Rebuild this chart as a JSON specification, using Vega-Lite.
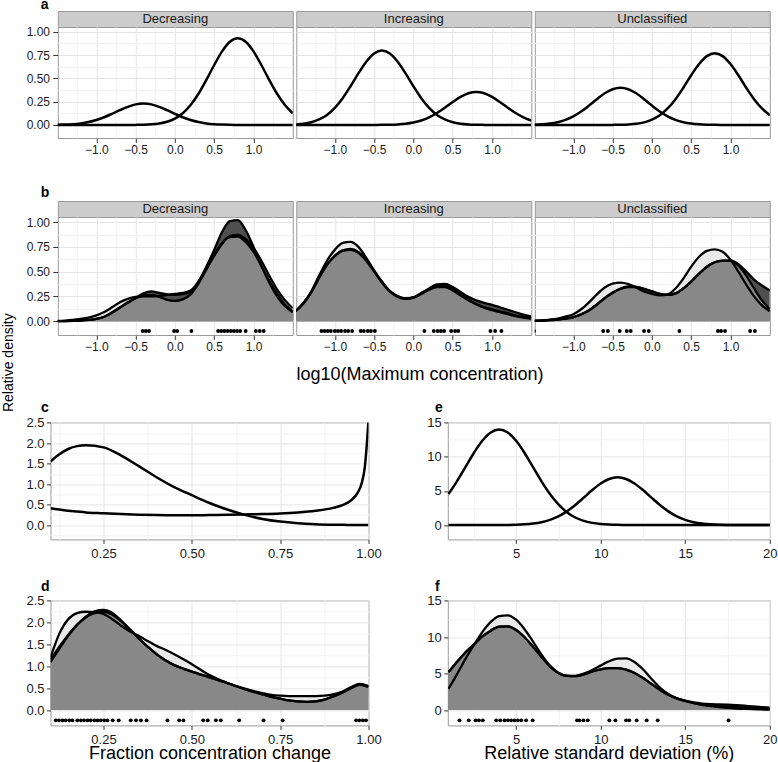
{
"$schema":"https://vega.github.io/schema/vega-lite/v6.json",
"background":"white",
"padding":{"left":1.5,"top":-3,"right":0,"bottom":0},
"title":{"text":"Relative density","orient":"left","anchor":"middle","frame":"bounds","fontSize":14,"fontWeight":"normal","offset":9.5,"dx":17.6,"color":"#000000","font":"Liberation Sans"},
"config":{
 "font":"Liberation Sans",
 "view":{"stroke":"#999999","strokeWidth":1},
 "axis":{"domain":false,"labelFont":"Liberation Sans","titleFont":"Liberation Sans","labelColor":"#1a1a1a","titleColor":"#000000","titleFontWeight":"normal","tickColor":"#333333","tickWidth":1,"gridColor":"#e5e5e5","gridWidth":1,"labelOverlap":false,"labelFlush":false,"labelBound":false},
 "title":{"font":"Liberation Sans","fontWeight":"bold","fontSize":14,"color":"#000000","anchor":"start","baseline":"alphabetic"}
},
"datasets":{
"A":[
{"g":"D","x":-1.5,"c1":0.0016,"c2":0},{"g":"D","x":-1.4,"c1":0.0039,"c2":0},{"g":"D","x":-1.3,"c1":0.0084,"c2":0},{"g":"D","x":-1.2,"c1":0.0169,"c2":0},{"g":"D","x":-1.1,"c1":0.031,"c2":0},{"g":"D","x":-1.0,"c1":0.053,"c2":0},{"g":"D","x":-0.9,"c1":0.083,"c2":0},{"g":"D","x":-0.8,"c1":0.12,"c2":0},{"g":"D","x":-0.7,"c1":0.159,"c2":0},{"g":"D","x":-0.6,"c1":0.195,"c2":0},{"g":"D","x":-0.5,"c1":0.221,"c2":0.0009},{"g":"D","x":-0.4,"c1":0.23,"c2":0.0026},{"g":"D","x":-0.3,"c1":0.221,"c2":0.0067},{"g":"D","x":-0.2,"c1":0.195,"c2":0.0157},{"g":"D","x":-0.1,"c1":0.159,"c2":0.034},{"g":"D","x":0,"c1":0.12,"c2":0.068},{"g":"D","x":0.1,"c1":0.083,"c2":0.126},{"g":"D","x":0.2,"c1":0.053,"c2":0.214},{"g":"D","x":0.3,"c1":0.031,"c2":0.335},{"g":"D","x":0.4,"c1":0.0169,"c2":0.484},{"g":"D","x":0.5,"c1":0.0084,"c2":0.644},{"g":"D","x":0.6,"c1":0.0039,"c2":0.79},{"g":"D","x":0.7,"c1":0.0016,"c2":0.893},{"g":"D","x":0.8,"c1":0.0006,"c2":0.93},{"g":"D","x":0.9,"c1":0.0002,"c2":0.893},{"g":"D","x":1.0,"c1":0,"c2":0.79},{"g":"D","x":1.1,"c1":0,"c2":0.644},{"g":"D","x":1.2,"c1":0,"c2":0.484},{"g":"D","x":1.3,"c1":0,"c2":0.335},{"g":"D","x":1.4,"c1":0,"c2":0.214},{"g":"D","x":1.5,"c1":0,"c2":0.126},
{"g":"I","x":-1.5,"c1":0.0057,"c2":0},{"g":"I","x":-1.4,"c1":0.0135,"c2":0},{"g":"I","x":-1.3,"c1":0.029,"c2":0},{"g":"I","x":-1.2,"c1":0.059,"c2":0},{"g":"I","x":-1.1,"c1":0.108,"c2":0},{"g":"I","x":-1.0,"c1":0.184,"c2":0},{"g":"I","x":-0.9,"c1":0.288,"c2":0},{"g":"I","x":-0.8,"c1":0.416,"c2":0},{"g":"I","x":-0.7,"c1":0.554,"c2":0},{"g":"I","x":-0.6,"c1":0.679,"c2":0},{"g":"I","x":-0.5,"c1":0.768,"c2":0.0004},{"g":"I","x":-0.4,"c1":0.8,"c2":0.001},{"g":"I","x":-0.3,"c1":0.768,"c2":0.0025},{"g":"I","x":-0.2,"c1":0.679,"c2":0.006},{"g":"I","x":-0.1,"c1":0.554,"c2":0.013},{"g":"I","x":0,"c1":0.416,"c2":0.026},{"g":"I","x":0.1,"c1":0.288,"c2":0.048},{"g":"I","x":0.2,"c1":0.184,"c2":0.082},{"g":"I","x":0.3,"c1":0.108,"c2":0.128},{"g":"I","x":0.4,"c1":0.059,"c2":0.185},{"g":"I","x":0.5,"c1":0.029,"c2":0.246},{"g":"I","x":0.6,"c1":0.0135,"c2":0.301},{"g":"I","x":0.7,"c1":0.0057,"c2":0.341},{"g":"I","x":0.8,"c1":0.0022,"c2":0.355},{"g":"I","x":0.9,"c1":0.0008,"c2":0.341},{"g":"I","x":1.0,"c1":0,"c2":0.301},{"g":"I","x":1.1,"c1":0,"c2":0.246},{"g":"I","x":1.2,"c1":0,"c2":0.185},{"g":"I","x":1.3,"c1":0,"c2":0.128},{"g":"I","x":1.4,"c1":0,"c2":0.082},{"g":"I","x":1.5,"c1":0,"c2":0.048},
{"g":"U","x":-1.5,"c1":0.0029,"c2":0},{"g":"U","x":-1.4,"c1":0.0068,"c2":0},{"g":"U","x":-1.3,"c1":0.0147,"c2":0},{"g":"U","x":-1.2,"c1":0.029,"c2":0},{"g":"U","x":-1.1,"c1":0.054,"c2":0},{"g":"U","x":-1.0,"c1":0.092,"c2":0},{"g":"U","x":-0.9,"c1":0.144,"c2":0},{"g":"U","x":-0.8,"c1":0.208,"c2":0},{"g":"U","x":-0.7,"c1":0.277,"c2":0},{"g":"U","x":-0.6,"c1":0.34,"c2":0},{"g":"U","x":-0.5,"c1":0.384,"c2":0.0008},{"g":"U","x":-0.4,"c1":0.4,"c2":0.0022},{"g":"U","x":-0.3,"c1":0.384,"c2":0.0055},{"g":"U","x":-0.2,"c1":0.34,"c2":0.013},{"g":"U","x":-0.1,"c1":0.277,"c2":0.028},{"g":"U","x":0,"c1":0.208,"c2":0.057},{"g":"U","x":0.1,"c1":0.144,"c2":0.104},{"g":"U","x":0.2,"c1":0.092,"c2":0.177},{"g":"U","x":0.3,"c1":0.054,"c2":0.277},{"g":"U","x":0.4,"c1":0.029,"c2":0.4},{"g":"U","x":0.5,"c1":0.0147,"c2":0.534},{"g":"U","x":0.6,"c1":0.0068,"c2":0.654},{"g":"U","x":0.7,"c1":0.0029,"c2":0.739},{"g":"U","x":0.8,"c1":0.0011,"c2":0.77},{"g":"U","x":0.9,"c1":0.0004,"c2":0.739},{"g":"U","x":1.0,"c1":0,"c2":0.654},{"g":"U","x":1.1,"c1":0,"c2":0.534},{"g":"U","x":1.2,"c1":0,"c2":0.4},{"g":"U","x":1.3,"c1":0,"c2":0.277},{"g":"U","x":1.4,"c1":0,"c2":0.177},{"g":"U","x":1.5,"c1":0,"c2":0.104}
],
"B":[
{"g":"D","x":-1.5,"L":0.003,"B":0,"C":0},{"g":"D","x":-1.4,"L":0.006,"B":0.001,"C":0.001},{"g":"D","x":-1.3,"L":0.012,"B":0.003,"C":0.003},{"g":"D","x":-1.2,"L":0.022,"B":0.006,"C":0.006},{"g":"D","x":-1.1,"L":0.035,"B":0.012,"C":0.012},{"g":"D","x":-1.0,"L":0.058,"B":0.022,"C":0.022},{"g":"D","x":-0.9,"L":0.092,"B":0.044,"C":0.045},{"g":"D","x":-0.8,"L":0.14,"B":0.085,"C":0.09},{"g":"D","x":-0.7,"L":0.19,"B":0.135,"C":0.14},{"g":"D","x":-0.6,"L":0.225,"B":0.185,"C":0.19},{"g":"D","x":-0.5,"L":0.245,"B":0.235,"C":0.23},{"g":"D","x":-0.4,"L":0.25,"B":0.28,"C":0.26},{"g":"D","x":-0.3,"L":0.25,"B":0.3,"C":0.265},{"g":"D","x":-0.2,"L":0.255,"B":0.285,"C":0.245},{"g":"D","x":-0.1,"L":0.265,"B":0.27,"C":0.215},{"g":"D","x":0,"L":0.275,"B":0.265,"C":0.205},{"g":"D","x":0.1,"L":0.285,"B":0.272,"C":0.22},{"g":"D","x":0.2,"L":0.31,"B":0.3,"C":0.27},{"g":"D","x":0.3,"L":0.4,"B":0.4,"C":0.38},{"g":"D","x":0.4,"L":0.53,"B":0.55,"C":0.52},{"g":"D","x":0.5,"L":0.66,"B":0.72,"C":0.67},{"g":"D","x":0.6,"L":0.78,"B":0.9,"C":0.79},{"g":"D","x":0.7,"L":0.86,"B":1.01,"C":0.85},{"g":"D","x":0.8,"L":0.87,"B":1.02,"C":0.855},{"g":"D","x":0.9,"L":0.83,"B":0.92,"C":0.8},{"g":"D","x":1.0,"L":0.74,"B":0.75,"C":0.7},{"g":"D","x":1.1,"L":0.61,"B":0.56,"C":0.56},{"g":"D","x":1.2,"L":0.46,"B":0.39,"C":0.41},{"g":"D","x":1.3,"L":0.32,"B":0.25,"C":0.28},{"g":"D","x":1.4,"L":0.21,"B":0.15,"C":0.17},{"g":"D","x":1.5,"L":0.13,"B":0.09,"C":0.1},
{"g":"I","x":-1.5,"L":0.1,"B":0.1,"C":0.1},{"g":"I","x":-1.4,"L":0.18,"B":0.18,"C":0.18},{"g":"I","x":-1.3,"L":0.3,"B":0.29,"C":0.29},{"g":"I","x":-1.2,"L":0.46,"B":0.44,"C":0.44},{"g":"I","x":-1.1,"L":0.61,"B":0.57,"C":0.57},{"g":"I","x":-1.0,"L":0.72,"B":0.66,"C":0.66},{"g":"I","x":-0.9,"L":0.79,"B":0.715,"C":0.71},{"g":"I","x":-0.8,"L":0.8,"B":0.73,"C":0.72},{"g":"I","x":-0.7,"L":0.75,"B":0.7,"C":0.69},{"g":"I","x":-0.6,"L":0.64,"B":0.62,"C":0.61},{"g":"I","x":-0.5,"L":0.51,"B":0.51,"C":0.5},{"g":"I","x":-0.4,"L":0.39,"B":0.4,"C":0.39},{"g":"I","x":-0.3,"L":0.3,"B":0.305,"C":0.3},{"g":"I","x":-0.2,"L":0.245,"B":0.25,"C":0.25},{"g":"I","x":-0.1,"L":0.225,"B":0.23,"C":0.23},{"g":"I","x":0,"L":0.235,"B":0.24,"C":0.24},{"g":"I","x":0.1,"L":0.275,"B":0.285,"C":0.28},{"g":"I","x":0.2,"L":0.32,"B":0.33,"C":0.32},{"g":"I","x":0.3,"L":0.355,"B":0.37,"C":0.345},{"g":"I","x":0.4,"L":0.36,"B":0.375,"C":0.345},{"g":"I","x":0.5,"L":0.325,"B":0.345,"C":0.31},{"g":"I","x":0.6,"L":0.27,"B":0.295,"C":0.26},{"g":"I","x":0.7,"L":0.215,"B":0.245,"C":0.21},{"g":"I","x":0.8,"L":0.17,"B":0.21,"C":0.17},{"g":"I","x":0.9,"L":0.135,"B":0.185,"C":0.14},{"g":"I","x":1.0,"L":0.11,"B":0.165,"C":0.12},{"g":"I","x":1.1,"L":0.09,"B":0.14,"C":0.1},{"g":"I","x":1.2,"L":0.07,"B":0.115,"C":0.08},{"g":"I","x":1.3,"L":0.05,"B":0.09,"C":0.055},{"g":"I","x":1.4,"L":0.035,"B":0.065,"C":0.04},{"g":"I","x":1.5,"L":0.025,"B":0.045,"C":0.03},
{"g":"U","x":-1.5,"L":0.005,"B":0.003,"C":0.003},{"g":"U","x":-1.4,"L":0.008,"B":0.005,"C":0.005},{"g":"U","x":-1.3,"L":0.015,"B":0.01,"C":0.01},{"g":"U","x":-1.2,"L":0.025,"B":0.015,"C":0.015},{"g":"U","x":-1.1,"L":0.045,"B":0.025,"C":0.025},{"g":"U","x":-1.0,"L":0.07,"B":0.04,"C":0.04},{"g":"U","x":-0.9,"L":0.12,"B":0.068,"C":0.07},{"g":"U","x":-0.8,"L":0.19,"B":0.108,"C":0.11},{"g":"U","x":-0.7,"L":0.27,"B":0.165,"C":0.17},{"g":"U","x":-0.6,"L":0.34,"B":0.23,"C":0.235},{"g":"U","x":-0.5,"L":0.38,"B":0.285,"C":0.29},{"g":"U","x":-0.4,"L":0.39,"B":0.325,"C":0.33},{"g":"U","x":-0.3,"L":0.375,"B":0.345,"C":0.35},{"g":"U","x":-0.2,"L":0.34,"B":0.345,"C":0.345},{"g":"U","x":-0.1,"L":0.3,"B":0.325,"C":0.325},{"g":"U","x":0,"L":0.275,"B":0.3,"C":0.3},{"g":"U","x":0.1,"L":0.26,"B":0.275,"C":0.275},{"g":"U","x":0.2,"L":0.27,"B":0.265,"C":0.265},{"g":"U","x":0.3,"L":0.33,"B":0.28,"C":0.28},{"g":"U","x":0.4,"L":0.43,"B":0.33,"C":0.33},{"g":"U","x":0.5,"L":0.55,"B":0.4,"C":0.4},{"g":"U","x":0.6,"L":0.65,"B":0.48,"C":0.48},{"g":"U","x":0.7,"L":0.71,"B":0.55,"C":0.55},{"g":"U","x":0.8,"L":0.725,"B":0.595,"C":0.595},{"g":"U","x":0.9,"L":0.7,"B":0.61,"C":0.61},{"g":"U","x":1.0,"L":0.62,"B":0.61,"C":0.61},{"g":"U","x":1.1,"L":0.5,"B":0.575,"C":0.56},{"g":"U","x":1.2,"L":0.37,"B":0.5,"C":0.46},{"g":"U","x":1.3,"L":0.25,"B":0.42,"C":0.33},{"g":"U","x":1.4,"L":0.16,"B":0.36,"C":0.21},{"g":"U","x":1.5,"L":0.1,"B":0.31,"C":0.12}
],
"BR":[
{"g":"D","x":-0.41},{"g":"D","x":-0.37},{"g":"D","x":-0.33},{"g":"D","x":-0.01},{"g":"D","x":0.03},{"g":"D","x":0.21},{"g":"D","x":0.55},{"g":"D","x":0.59},{"g":"D","x":0.63},{"g":"D","x":0.67},{"g":"D","x":0.71},{"g":"D","x":0.75},{"g":"D","x":0.79},{"g":"D","x":0.83},{"g":"D","x":0.9},{"g":"D","x":1.03},{"g":"D","x":1.08},{"g":"D","x":1.13},
{"g":"I","x":-1.17},{"g":"I","x":-1.13},{"g":"I","x":-1.09},{"g":"I","x":-1.05},{"g":"I","x":-1.0},{"g":"I","x":-0.96},{"g":"I","x":-0.92},{"g":"I","x":-0.87},{"g":"I","x":-0.83},{"g":"I","x":-0.78},{"g":"I","x":-0.67},{"g":"I","x":-0.63},{"g":"I","x":-0.58},{"g":"I","x":-0.54},{"g":"I","x":-0.49},{"g":"I","x":0.14},{"g":"I","x":0.26},{"g":"I","x":0.31},{"g":"I","x":0.35},{"g":"I","x":0.39},{"g":"I","x":0.48},{"g":"I","x":0.53},{"g":"I","x":0.57},{"g":"I","x":0.98},{"g":"I","x":1.04},{"g":"I","x":1.12},
{"g":"U","x":-1.5},{"g":"U","x":-0.62},{"g":"U","x":-0.56},{"g":"U","x":-0.41},{"g":"U","x":-0.32},{"g":"U","x":-0.27},{"g":"U","x":-0.1},{"g":"U","x":-0.04},{"g":"U","x":0.35},{"g":"U","x":0.84},{"g":"U","x":0.88},{"g":"U","x":0.93},{"g":"U","x":1.25},{"g":"U","x":1.31}
],
"C":[
{"x":0.1,"c1":1.55,"c2":0.41},{"x":0.125,"c1":1.73,"c2":0.38},{"x":0.15,"c1":1.86,"c2":0.35},{"x":0.175,"c1":1.93,"c2":0.33},{"x":0.2,"c1":1.95,"c2":0.31},{"x":0.25,"c1":1.9,"c2":0.29},{"x":0.3,"c1":1.7,"c2":0.27},{"x":0.35,"c1":1.44,"c2":0.255},{"x":0.4,"c1":1.17,"c2":0.245},{"x":0.45,"c1":0.93,"c2":0.24},{"x":0.5,"c1":0.73,"c2":0.24},{"x":0.55,"c1":0.54,"c2":0.245},{"x":0.6,"c1":0.38,"c2":0.25},{"x":0.65,"c1":0.25,"c2":0.26},{"x":0.7,"c1":0.15,"c2":0.27},{"x":0.75,"c1":0.085,"c2":0.285},{"x":0.8,"c1":0.045,"c2":0.31},{"x":0.85,"c1":0.022,"c2":0.35},{"x":0.9,"c1":0.01,"c2":0.42},{"x":0.93,"c1":0.006,"c2":0.5},{"x":0.95,"c1":0.004,"c2":0.6},{"x":0.97,"c1":0.002,"c2":0.8},{"x":0.98,"c1":0.002,"c2":1.0},{"x":0.99,"c1":0.001,"c2":1.45},{"x":0.995,"c1":0.001,"c2":1.95},{"x":1.0,"c1":0.001,"c2":2.55}
],
"D":[
{"x":0.1,"L":1.2,"B":1.1,"C":1.15},{"x":0.125,"L":1.75,"B":1.4,"C":1.45},{"x":0.15,"L":2.08,"B":1.7,"C":1.72},{"x":0.175,"L":2.22,"B":1.95,"C":1.95},{"x":0.2,"L":2.25,"B":2.14,"C":2.12},{"x":0.225,"L":2.24,"B":2.26,"C":2.22},{"x":0.25,"L":2.2,"B":2.29,"C":2.24},{"x":0.275,"L":2.08,"B":2.22,"C":2.18},{"x":0.3,"L":1.93,"B":2.05,"C":2.03},{"x":0.325,"L":1.8,"B":1.85,"C":1.84},{"x":0.35,"L":1.7,"B":1.64,"C":1.64},{"x":0.375,"L":1.58,"B":1.45,"C":1.45},{"x":0.4,"L":1.47,"B":1.28,"C":1.28},{"x":0.425,"L":1.38,"B":1.14,"C":1.14},{"x":0.45,"L":1.28,"B":1.03,"C":1.03},{"x":0.475,"L":1.17,"B":0.95,"C":0.95},{"x":0.5,"L":1.05,"B":0.88,"C":0.88},{"x":0.55,"L":0.8,"B":0.75,"C":0.75},{"x":0.6,"L":0.62,"B":0.62,"C":0.62},{"x":0.65,"L":0.49,"B":0.48,"C":0.48},{"x":0.7,"L":0.39,"B":0.36,"C":0.36},{"x":0.725,"L":0.35,"B":0.3,"C":0.3},{"x":0.75,"L":0.33,"B":0.26,"C":0.26},{"x":0.775,"L":0.32,"B":0.22,"C":0.22},{"x":0.8,"L":0.32,"B":0.2,"C":0.2},{"x":0.825,"L":0.32,"B":0.19,"C":0.19},{"x":0.85,"L":0.32,"B":0.2,"C":0.2},{"x":0.875,"L":0.33,"B":0.24,"C":0.24},{"x":0.9,"L":0.36,"B":0.31,"C":0.31},{"x":0.925,"L":0.42,"B":0.4,"C":0.4},{"x":0.95,"L":0.52,"B":0.5,"C":0.5},{"x":0.975,"L":0.6,"B":0.59,"C":0.58},{"x":1.0,"L":0.55,"B":0.54,"C":0.53}
],
"DR":[
{"x":0.115},{"x":0.124},{"x":0.134},{"x":0.143},{"x":0.153},{"x":0.162},{"x":0.176},{"x":0.186},{"x":0.195},{"x":0.205},{"x":0.214},{"x":0.224},{"x":0.233},{"x":0.242},{"x":0.252},{"x":0.261},{"x":0.276},{"x":0.293},{"x":0.327},{"x":0.342},{"x":0.356},{"x":0.372},{"x":0.431},{"x":0.464},{"x":0.476},{"x":0.532},{"x":0.545},{"x":0.568},{"x":0.582},{"x":0.634},{"x":0.703},{"x":0.757},{"x":0.965},{"x":0.974},{"x":0.984},{"x":0.993}
],
"E":[
{"x":1,"c1":4.55,"c2":0},{"x":1.5,"c1":6.41,"c2":0},{"x":2,"c1":8.49,"c2":0},{"x":2.5,"c1":10.57,"c2":0},{"x":3,"c1":12.36,"c2":0},{"x":3.5,"c1":13.57,"c2":0.003},{"x":4,"c1":14,"c2":0.008},{"x":4.5,"c1":13.57,"c2":0.02},{"x":5,"c1":12.36,"c2":0.048},{"x":5.5,"c1":10.57,"c2":0.106},{"x":6,"c1":8.49,"c2":0.219},{"x":6.5,"c1":6.41,"c2":0.42},{"x":7,"c1":4.55,"c2":0.763},{"x":7.5,"c1":3.03,"c2":1.28},{"x":8,"c1":1.89,"c2":2.01},{"x":8.5,"c1":1.11,"c2":2.95},{"x":9,"c1":0.61,"c2":4.02},{"x":9.5,"c1":0.32,"c2":5.13},{"x":10,"c1":0.156,"c2":6.09},{"x":10.5,"c1":0.071,"c2":6.76},{"x":11,"c1":0.031,"c2":7},{"x":11.5,"c1":0.012,"c2":6.76},{"x":12,"c1":0.005,"c2":6.09},{"x":12.5,"c1":0.002,"c2":5.13},{"x":13,"c1":0,"c2":4.02},{"x":13.5,"c1":0,"c2":2.95},{"x":14,"c1":0,"c2":2.01},{"x":14.5,"c1":0,"c2":1.28},{"x":15,"c1":0,"c2":0.763},{"x":15.5,"c1":0,"c2":0.42},{"x":16,"c1":0,"c2":0.219},{"x":16.5,"c1":0,"c2":0.106},{"x":17,"c1":0,"c2":0.048},{"x":17.5,"c1":0,"c2":0.02},{"x":18,"c1":0,"c2":0.008},{"x":18.5,"c1":0,"c2":0.003},{"x":19,"c1":0,"c2":0.001},{"x":19.5,"c1":0,"c2":0},{"x":20,"c1":0,"c2":0}
],
"F":[
{"x":1,"L":2.9,"B":5.2,"C":5.2},{"x":1.5,"L":4.9,"B":6.6,"C":6.6},{"x":2,"L":7.0,"B":7.9,"C":7.9},{"x":2.5,"L":8.9,"B":9.0,"C":9.0},{"x":3,"L":10.7,"B":10.1,"C":10.1},{"x":3.5,"L":12.1,"B":10.9,"C":10.9},{"x":4,"L":12.9,"B":11.45,"C":11.45},{"x":4.5,"L":13.0,"B":11.5,"C":11.5},{"x":5,"L":12.4,"B":11.0,"C":11.0},{"x":5.5,"L":11.1,"B":10.0,"C":10.0},{"x":6,"L":9.4,"B":8.7,"C":8.7},{"x":6.5,"L":7.6,"B":7.3,"C":7.3},{"x":7,"L":6.1,"B":6.0,"C":6.0},{"x":7.5,"L":5.1,"B":5.1,"C":5.1},{"x":8,"L":4.7,"B":4.7,"C":4.7},{"x":8.5,"L":4.7,"B":4.65,"C":4.65},{"x":9,"L":5.0,"B":4.9,"C":4.9},{"x":9.5,"L":5.5,"B":5.3,"C":5.3},{"x":10,"L":6.1,"B":5.6,"C":5.6},{"x":10.5,"L":6.7,"B":5.75,"C":5.75},{"x":11,"L":7.05,"B":5.75,"C":5.75},{"x":11.5,"L":7.1,"B":5.55,"C":5.55},{"x":12,"L":6.6,"B":5.1,"C":5.1},{"x":12.5,"L":5.6,"B":4.4,"C":4.4},{"x":13,"L":4.3,"B":3.6,"C":3.6},{"x":13.5,"L":3.1,"B":2.8,"C":2.8},{"x":14,"L":2.2,"B":2.1,"C":2.1},{"x":14.5,"L":1.6,"B":1.62,"C":1.6},{"x":15,"L":1.25,"B":1.3,"C":1.25},{"x":15.5,"L":0.95,"B":1.05,"C":0.95},{"x":16,"L":0.72,"B":0.9,"C":0.75},{"x":16.5,"L":0.55,"B":0.82,"C":0.6},{"x":17,"L":0.4,"B":0.78,"C":0.5},{"x":17.5,"L":0.3,"B":0.74,"C":0.45},{"x":18,"L":0.22,"B":0.68,"C":0.4},{"x":18.5,"L":0.17,"B":0.6,"C":0.32},{"x":19,"L":0.12,"B":0.5,"C":0.25},{"x":19.5,"L":0.09,"B":0.42,"C":0.17},{"x":20,"L":0.06,"B":0.35,"C":0.12}
],
"FR":[
{"x":1.65},{"x":2.2},{"x":2.6},{"x":2.8},{"x":3.03},{"x":3.82},{"x":4.06},{"x":4.31},{"x":4.51},{"x":4.7},{"x":4.9},{"x":5.1},{"x":5.3},{"x":5.59},{"x":5.98},{"x":8.6},{"x":8.74},{"x":8.98},{"x":9.24},{"x":10.51},{"x":10.87},{"x":11.5},{"x":11.69},{"x":12.13},{"x":12.72},{"x":13.37},{"x":17.56}
]
},
"spacing":29,
"vconcat":[
{"spacing":-26.7,"hconcat":[
{"width":1,"height":1,"view":{"stroke":null,"fill":null},"data":{"values":[]},"mark":{"type":"point","opacity":0}},
{"title":{"text":"a","offset":-1.3,"dx":15,"frame":"bounds"},"spacing":1.5,"hconcat":[
 {"spacing":0,"bounds":"flush","vconcat":[
  {"width":235,"height":16,"view":{"fill":"#cccccc","stroke":"#999999"},"data":{"values":[{"t":"Decreasing"}]},"mark":{"type":"text","fontSize":13,"color":"#1a1a1a","baseline":"middle"},"encoding":{"text":{"field":"t","type":"nominal"}}},
  {"width":235,"height":111,"data":{"name":"A"},"transform":[{"filter":"datum.g=='D'"},{"fold":["c1","c2"],"as":["s","y"]}],"mark":{"type":"line","color":"#000000","strokeWidth":2.5,"interpolate":"monotone","clip":true},
   "encoding":{"x":{"field":"x","type":"quantitative","scale":{"domain":[-1.49,1.5],"nice":false,"zero":false},"axis":{"title":null,"values":[-1.25,-1,-0.75,-0.5,-0.25,0,0.25,0.5,0.75,1,1.25],"format":".1f","labelExpr":"abs(datum.value*2-round(datum.value*2))>0.01 ? '' : datum.label","labelFontSize":12,"tickSize":4.4,"labelPadding":2,"gridColor":{"condition":{"test":"abs(datum.value*2-round(datum.value*2))>0.01","value":"#f2f2f2"},"value":"#e5e5e5"},"tickOpacity":{"condition":{"test":"abs(datum.value*2-round(datum.value*2))>0.01","value":0},"value":1}}},
   "y":{"field":"y","type":"quantitative","scale":{"domain":[-0.14,1.052],"nice":false,"zero":false},"axis":{"title":null,"values":[0,0.125,0.25,0.375,0.5,0.625,0.75,0.875,1],"format":".2f","labelExpr":"abs(datum.value*4-round(datum.value*4))>0.01 ? '' : datum.label","labelFontSize":12,"tickSize":5,"labelPadding":3.3,"gridColor":{"condition":{"test":"abs(datum.value*4-round(datum.value*4))>0.01","value":"#f2f2f2"},"value":"#e5e5e5"},"tickOpacity":{"condition":{"test":"abs(datum.value*4-round(datum.value*4))>0.01","value":0},"value":1}}},
   "detail":{"field":"s"}}}
 ]},
 {"spacing":0,"bounds":"flush","vconcat":[
  {"width":235,"height":16,"view":{"fill":"#cccccc","stroke":"#999999"},"data":{"values":[{"t":"Increasing"}]},"mark":{"type":"text","fontSize":13,"color":"#1a1a1a","baseline":"middle"},"encoding":{"text":{"field":"t","type":"nominal"}}},
  {"width":235,"height":111,"data":{"name":"A"},"transform":[{"filter":"datum.g=='I'"},{"fold":["c1","c2"],"as":["s","y"]}],"mark":{"type":"line","color":"#000000","strokeWidth":2.5,"interpolate":"monotone","clip":true},
   "encoding":{"x":{"field":"x","type":"quantitative","scale":{"domain":[-1.49,1.5],"nice":false,"zero":false},"axis":{"title":null,"values":[-1.25,-1,-0.75,-0.5,-0.25,0,0.25,0.5,0.75,1,1.25],"format":".1f","labelExpr":"abs(datum.value*2-round(datum.value*2))>0.01 ? '' : datum.label","labelFontSize":12,"tickSize":4.4,"labelPadding":2,"gridColor":{"condition":{"test":"abs(datum.value*2-round(datum.value*2))>0.01","value":"#f2f2f2"},"value":"#e5e5e5"},"tickOpacity":{"condition":{"test":"abs(datum.value*2-round(datum.value*2))>0.01","value":0},"value":1}}},
   "y":{"field":"y","type":"quantitative","scale":{"domain":[-0.14,1.052],"nice":false,"zero":false},"axis":{"title":null,"values":[0,0.125,0.25,0.375,0.5,0.625,0.75,0.875,1],"labels":false,"ticks":false,"gridColor":{"condition":{"test":"abs(datum.value*4-round(datum.value*4))>0.01","value":"#f2f2f2"},"value":"#e5e5e5"}}},
   "detail":{"field":"s"}}}
 ]},
 {"spacing":0,"bounds":"flush","vconcat":[
  {"width":235,"height":16,"view":{"fill":"#cccccc","stroke":"#999999"},"data":{"values":[{"t":"Unclassified"}]},"mark":{"type":"text","fontSize":13,"color":"#1a1a1a","baseline":"middle"},"encoding":{"text":{"field":"t","type":"nominal"}}},
  {"width":235,"height":111,"data":{"name":"A"},"transform":[{"filter":"datum.g=='U'"},{"fold":["c1","c2"],"as":["s","y"]}],"mark":{"type":"line","color":"#000000","strokeWidth":2.5,"interpolate":"monotone","clip":true},
   "encoding":{"x":{"field":"x","type":"quantitative","scale":{"domain":[-1.49,1.5],"nice":false,"zero":false},"axis":{"title":null,"values":[-1.25,-1,-0.75,-0.5,-0.25,0,0.25,0.5,0.75,1,1.25],"format":".1f","labelExpr":"abs(datum.value*2-round(datum.value*2))>0.01 ? '' : datum.label","labelFontSize":12,"tickSize":4.4,"labelPadding":2,"gridColor":{"condition":{"test":"abs(datum.value*2-round(datum.value*2))>0.01","value":"#f2f2f2"},"value":"#e5e5e5"},"tickOpacity":{"condition":{"test":"abs(datum.value*2-round(datum.value*2))>0.01","value":0},"value":1}}},
   "y":{"field":"y","type":"quantitative","scale":{"domain":[-0.14,1.052],"nice":false,"zero":false},"axis":{"title":null,"values":[0,0.125,0.25,0.375,0.5,0.625,0.75,0.875,1],"labels":false,"ticks":false,"gridColor":{"condition":{"test":"abs(datum.value*4-round(datum.value*4))>0.01","value":"#f2f2f2"},"value":"#e5e5e5"}}},
   "detail":{"field":"s"}}}
 ]}
]}
]},
{"spacing":15.4,"vconcat":[
{"title":{"text":"b","offset":0.7,"dx":15,"frame":"bounds"},"spacing":-26.7,"hconcat":[
{"width":1,"height":1,"view":{"stroke":null,"fill":null},"data":{"values":[]},"mark":{"type":"point","opacity":0}},
{"title":{"text":"log10(Maximum concentration)","orient":"bottom","anchor":"middle","frame":"bounds","fontSize":18,"fontWeight":"normal","offset":13.5,"dx":22},"spacing":1.5,"hconcat":[
 {"spacing":0,"bounds":"flush","vconcat":[
  {"width":235,"height":16,"view":{"fill":"#cccccc","stroke":"#999999"},"data":{"values":[{"t":"Decreasing"}]},"mark":{"type":"text","fontSize":13,"color":"#1a1a1a","baseline":"middle"},"encoding":{"text":{"field":"t","type":"nominal"}}},
  {"width":235,"height":118,
   "encoding":{"x":{"field":"x","type":"quantitative","scale":{"domain":[-1.49,1.5],"nice":false,"zero":false},"axis":{"title":null,"values":[-1.25,-1,-0.75,-0.5,-0.25,0,0.25,0.5,0.75,1,1.25],"format":".1f","labelExpr":"abs(datum.value*2-round(datum.value*2))>0.01 ? '' : datum.label","labelFontSize":12,"tickSize":4.4,"labelPadding":2,"gridColor":{"condition":{"test":"abs(datum.value*2-round(datum.value*2))>0.01","value":"#f2f2f2"},"value":"#e5e5e5"},"tickOpacity":{"condition":{"test":"abs(datum.value*2-round(datum.value*2))>0.01","value":0},"value":1}}}},
   "layer":[
    {"data":{"name":"B"},"transform":[{"filter":"datum.g=='D'"},{"fold":["L","B","C"],"as":["s","v"]}],
     "encoding":{"y":{"field":"v","type":"quantitative","scale":{"domain":[-0.14,1.052],"nice":false,"zero":false},"axis":{"title":null,"values":[0,0.125,0.25,0.375,0.5,0.625,0.75,0.875,1],"format":".2f","labelExpr":"abs(datum.value*4-round(datum.value*4))>0.01 ? '' : datum.label","labelFontSize":12,"tickSize":5,"labelPadding":3.3,"gridColor":{"condition":{"test":"abs(datum.value*4-round(datum.value*4))>0.01","value":"#f2f2f2"},"value":"#e5e5e5"},"tickOpacity":{"condition":{"test":"abs(datum.value*4-round(datum.value*4))>0.01","value":0},"value":1}}}},
     "layer":[
      {"transform":[{"filter":"datum.s=='L'"}],"mark":{"type":"area","color":"#e9e9e9","interpolate":"monotone","clip":true},"encoding":{"y2":{"datum":0}}},
      {"transform":[{"filter":"datum.s=='B'"}],"mark":{"type":"area","color":"#4f4f4f","interpolate":"monotone","clip":true},"encoding":{"y2":{"datum":0}}},
      {"transform":[{"filter":"datum.s=='C'"}],"mark":{"type":"area","color":"#888888","interpolate":"monotone","clip":true},"encoding":{"y2":{"datum":0}}},
      {"mark":{"type":"line","color":"#000000","strokeWidth":2.3,"interpolate":"monotone","clip":true},"encoding":{"detail":{"field":"s"}}}
     ]},
    {"data":{"name":"BR"},"transform":[{"filter":"datum.g=='D'"}],"mark":{"type":"circle","color":"#000000","size":15,"opacity":1,"clip":true},
     "encoding":{"y":{"datum":-0.1,"type":"quantitative","scale":{"domain":[-0.14,1.052],"nice":false,"zero":false},"axis":{"title":null,"values":[0,0.125,0.25,0.375,0.5,0.625,0.75,0.875,1],"format":".2f","labelExpr":"abs(datum.value*4-round(datum.value*4))>0.01 ? '' : datum.label","labelFontSize":12,"tickSize":5,"labelPadding":3.3,"gridColor":{"condition":{"test":"abs(datum.value*4-round(datum.value*4))>0.01","value":"#f2f2f2"},"value":"#e5e5e5"},"tickOpacity":{"condition":{"test":"abs(datum.value*4-round(datum.value*4))>0.01","value":0},"value":1}}}}}
   ]}
 ]},
 {"spacing":0,"bounds":"flush","vconcat":[
  {"width":235,"height":16,"view":{"fill":"#cccccc","stroke":"#999999"},"data":{"values":[{"t":"Increasing"}]},"mark":{"type":"text","fontSize":13,"color":"#1a1a1a","baseline":"middle"},"encoding":{"text":{"field":"t","type":"nominal"}}},
  {"width":235,"height":118,
   "encoding":{"x":{"field":"x","type":"quantitative","scale":{"domain":[-1.49,1.5],"nice":false,"zero":false},"axis":{"title":null,"values":[-1.25,-1,-0.75,-0.5,-0.25,0,0.25,0.5,0.75,1,1.25],"format":".1f","labelExpr":"abs(datum.value*2-round(datum.value*2))>0.01 ? '' : datum.label","labelFontSize":12,"tickSize":4.4,"labelPadding":2,"gridColor":{"condition":{"test":"abs(datum.value*2-round(datum.value*2))>0.01","value":"#f2f2f2"},"value":"#e5e5e5"},"tickOpacity":{"condition":{"test":"abs(datum.value*2-round(datum.value*2))>0.01","value":0},"value":1}}}},
   "layer":[
    {"data":{"name":"B"},"transform":[{"filter":"datum.g=='I'"},{"fold":["L","B","C"],"as":["s","v"]}],
     "encoding":{"y":{"field":"v","type":"quantitative","scale":{"domain":[-0.14,1.052],"nice":false,"zero":false},"axis":{"title":null,"values":[0,0.125,0.25,0.375,0.5,0.625,0.75,0.875,1],"labels":false,"ticks":false,"gridColor":{"condition":{"test":"abs(datum.value*4-round(datum.value*4))>0.01","value":"#f2f2f2"},"value":"#e5e5e5"}}}},
     "layer":[
      {"transform":[{"filter":"datum.s=='L'"}],"mark":{"type":"area","color":"#e9e9e9","interpolate":"monotone","clip":true},"encoding":{"y2":{"datum":0}}},
      {"transform":[{"filter":"datum.s=='B'"}],"mark":{"type":"area","color":"#4f4f4f","interpolate":"monotone","clip":true},"encoding":{"y2":{"datum":0}}},
      {"transform":[{"filter":"datum.s=='C'"}],"mark":{"type":"area","color":"#888888","interpolate":"monotone","clip":true},"encoding":{"y2":{"datum":0}}},
      {"mark":{"type":"line","color":"#000000","strokeWidth":2.3,"interpolate":"monotone","clip":true},"encoding":{"detail":{"field":"s"}}}
     ]},
    {"data":{"name":"BR"},"transform":[{"filter":"datum.g=='I'"}],"mark":{"type":"circle","color":"#000000","size":15,"opacity":1,"clip":true},
     "encoding":{"y":{"datum":-0.1,"type":"quantitative","scale":{"domain":[-0.14,1.052],"nice":false,"zero":false},"axis":{"title":null,"values":[0,0.125,0.25,0.375,0.5,0.625,0.75,0.875,1],"labels":false,"ticks":false,"gridColor":{"condition":{"test":"abs(datum.value*4-round(datum.value*4))>0.01","value":"#f2f2f2"},"value":"#e5e5e5"}}}}}
   ]}
 ]},
 {"spacing":0,"bounds":"flush","vconcat":[
  {"width":235,"height":16,"view":{"fill":"#cccccc","stroke":"#999999"},"data":{"values":[{"t":"Unclassified"}]},"mark":{"type":"text","fontSize":13,"color":"#1a1a1a","baseline":"middle"},"encoding":{"text":{"field":"t","type":"nominal"}}},
  {"width":235,"height":118,
   "encoding":{"x":{"field":"x","type":"quantitative","scale":{"domain":[-1.49,1.5],"nice":false,"zero":false},"axis":{"title":null,"values":[-1.25,-1,-0.75,-0.5,-0.25,0,0.25,0.5,0.75,1,1.25],"format":".1f","labelExpr":"abs(datum.value*2-round(datum.value*2))>0.01 ? '' : datum.label","labelFontSize":12,"tickSize":4.4,"labelPadding":2,"gridColor":{"condition":{"test":"abs(datum.value*2-round(datum.value*2))>0.01","value":"#f2f2f2"},"value":"#e5e5e5"},"tickOpacity":{"condition":{"test":"abs(datum.value*2-round(datum.value*2))>0.01","value":0},"value":1}}}},
   "layer":[
    {"data":{"name":"B"},"transform":[{"filter":"datum.g=='U'"},{"fold":["L","B","C"],"as":["s","v"]}],
     "encoding":{"y":{"field":"v","type":"quantitative","scale":{"domain":[-0.14,1.052],"nice":false,"zero":false},"axis":{"title":null,"values":[0,0.125,0.25,0.375,0.5,0.625,0.75,0.875,1],"labels":false,"ticks":false,"gridColor":{"condition":{"test":"abs(datum.value*4-round(datum.value*4))>0.01","value":"#f2f2f2"},"value":"#e5e5e5"}}}},
     "layer":[
      {"transform":[{"filter":"datum.s=='L'"}],"mark":{"type":"area","color":"#e9e9e9","interpolate":"monotone","clip":true},"encoding":{"y2":{"datum":0}}},
      {"transform":[{"filter":"datum.s=='B'"}],"mark":{"type":"area","color":"#4f4f4f","interpolate":"monotone","clip":true},"encoding":{"y2":{"datum":0}}},
      {"transform":[{"filter":"datum.s=='C'"}],"mark":{"type":"area","color":"#888888","interpolate":"monotone","clip":true},"encoding":{"y2":{"datum":0}}},
      {"mark":{"type":"line","color":"#000000","strokeWidth":2.3,"interpolate":"monotone","clip":true},"encoding":{"detail":{"field":"s"}}}
     ]},
    {"data":{"name":"BR"},"transform":[{"filter":"datum.g=='U'"}],"mark":{"type":"circle","color":"#000000","size":15,"opacity":1,"clip":true},
     "encoding":{"y":{"datum":-0.1,"type":"quantitative","scale":{"domain":[-0.14,1.052],"nice":false,"zero":false},"axis":{"title":null,"values":[0,0.125,0.25,0.375,0.5,0.625,0.75,0.875,1],"labels":false,"ticks":false,"gridColor":{"condition":{"test":"abs(datum.value*4-round(datum.value*4))>0.01","value":"#f2f2f2"},"value":"#e5e5e5"}}}}}
   ]}
 ]}
]}
]},
{"spacing":43.3,"hconcat":[
 {"spacing":18,"vconcat":[
  {"width":318,"height":117,"title":{"text":"c","offset":1.35,"dx":-9.5,"frame":"group"},"data":{"name":"C"},"transform":[{"fold":["c1","c2"],"as":["s","y"]}],"mark":{"type":"line","color":"#000000","strokeWidth":2.5,"interpolate":"monotone","clip":true},
   "encoding":{"x":{"field":"x","type":"quantitative","scale":{"domain":[0.1,1],"nice":false,"zero":false},"axis":{"title":null,"values":[0.125,0.25,0.375,0.5,0.625,0.75,0.875,1],"format":".2f","labelExpr":"abs(datum.value*4-round(datum.value*4))>0.01 ? '' : datum.label","labelFontSize":13,"tickSize":4,"labelPadding":3.9,"gridColor":{"condition":{"test":"abs(datum.value*4-round(datum.value*4))>0.01","value":"#f2f2f2"},"value":"#e5e5e5"},"tickOpacity":{"condition":{"test":"abs(datum.value*4-round(datum.value*4))>0.01","value":0},"value":1}}},
   "y":{"field":"y","type":"quantitative","scale":{"domain":[-0.35,2.51],"nice":false,"zero":false},"axis":{"title":null,"values":[-0.25,0,0.25,0.5,0.75,1,1.25,1.5,1.75,2,2.25,2.5],"format":".1f","labelExpr":"abs(datum.value*2-round(datum.value*2))>0.01 ? '' : datum.label","labelFontSize":13,"tickSize":4,"labelPadding":2.5,"gridColor":{"condition":{"test":"abs(datum.value*2-round(datum.value*2))>0.01","value":"#f2f2f2"},"value":"#e5e5e5"},"tickOpacity":{"condition":{"test":"abs(datum.value*2-round(datum.value*2))>0.01","value":0},"value":1}}},
   "detail":{"field":"s"}}},
  {"width":318,"height":125,"title":{"text":"d","offset":0.4,"dx":-9.5,"frame":"group"},
   "encoding":{"x":{"field":"x","type":"quantitative","scale":{"domain":[0.1,1],"nice":false,"zero":false},"axis":{"title":"Fraction concentration change","titleFontSize":18,"titlePadding":-2,"values":[0.125,0.25,0.375,0.5,0.625,0.75,0.875,1],"format":".2f","labelExpr":"abs(datum.value*4-round(datum.value*4))>0.01 ? '' : datum.label","labelFontSize":13,"tickSize":4,"labelPadding":3.9,"gridColor":{"condition":{"test":"abs(datum.value*4-round(datum.value*4))>0.01","value":"#f2f2f2"},"value":"#e5e5e5"},"tickOpacity":{"condition":{"test":"abs(datum.value*4-round(datum.value*4))>0.01","value":0},"value":1}}}},
   "layer":[
    {"data":{"name":"D"},"transform":[{"fold":["L","B","C"],"as":["s","v"]}],
     "encoding":{"y":{"field":"v","type":"quantitative","scale":{"domain":[-0.35,2.51],"nice":false,"zero":false},"axis":{"title":null,"values":[-0.25,0,0.25,0.5,0.75,1,1.25,1.5,1.75,2,2.25,2.5],"format":".1f","labelExpr":"abs(datum.value*2-round(datum.value*2))>0.01 ? '' : datum.label","labelFontSize":13,"tickSize":4,"labelPadding":2.5,"gridColor":{"condition":{"test":"abs(datum.value*2-round(datum.value*2))>0.01","value":"#f2f2f2"},"value":"#e5e5e5"},"tickOpacity":{"condition":{"test":"abs(datum.value*2-round(datum.value*2))>0.01","value":0},"value":1}}}},
     "layer":[
      {"transform":[{"filter":"datum.s=='L'"}],"mark":{"type":"area","color":"#e9e9e9","interpolate":"monotone","clip":true},"encoding":{"y2":{"datum":0}}},
      {"transform":[{"filter":"datum.s=='B'"}],"mark":{"type":"area","color":"#4f4f4f","interpolate":"monotone","clip":true},"encoding":{"y2":{"datum":0}}},
      {"transform":[{"filter":"datum.s=='C'"}],"mark":{"type":"area","color":"#888888","interpolate":"monotone","clip":true},"encoding":{"y2":{"datum":0}}},
      {"mark":{"type":"line","color":"#000000","strokeWidth":2.3,"interpolate":"monotone","clip":true},"encoding":{"detail":{"field":"s"}}}
     ]},
    {"data":{"name":"DR"},"mark":{"type":"circle","color":"#000000","size":15,"opacity":1,"clip":true},
     "encoding":{"y":{"datum":-0.235,"type":"quantitative","scale":{"domain":[-0.35,2.51],"nice":false,"zero":false},"axis":{"title":null,"values":[-0.25,0,0.25,0.5,0.75,1,1.25,1.5,1.75,2,2.25,2.5],"format":".1f","labelExpr":"abs(datum.value*2-round(datum.value*2))>0.01 ? '' : datum.label","labelFontSize":13,"tickSize":4,"labelPadding":2.5,"gridColor":{"condition":{"test":"abs(datum.value*2-round(datum.value*2))>0.01","value":"#f2f2f2"},"value":"#e5e5e5"},"tickOpacity":{"condition":{"test":"abs(datum.value*2-round(datum.value*2))>0.01","value":0},"value":1}}}}}
   ]}
 ]},
 {"spacing":18,"vconcat":[
  {"width":322,"height":117,"title":{"text":"e","offset":1.3,"dx":-12.8,"frame":"group"},"data":{"name":"E"},"transform":[{"fold":["c1","c2"],"as":["s","y"]}],"mark":{"type":"line","color":"#000000","strokeWidth":2.5,"interpolate":"monotone","clip":true},
   "encoding":{"x":{"field":"x","type":"quantitative","scale":{"domain":[0.96,20],"nice":false,"zero":false},"axis":{"title":null,"values":[2.5,5,7.5,10,12.5,15,17.5,20],"format":"d","labelExpr":"abs(datum.value/5-round(datum.value/5))>0.01 ? '' : datum.label","labelFontSize":13,"tickSize":4,"labelPadding":3.9,"gridColor":{"condition":{"test":"abs(datum.value/5-round(datum.value/5))>0.01","value":"#f2f2f2"},"value":"#e5e5e5"},"tickOpacity":{"condition":{"test":"abs(datum.value/5-round(datum.value/5))>0.01","value":0},"value":1}}},
   "y":{"field":"y","type":"quantitative","scale":{"domain":[-2.1,15.05],"nice":false,"zero":false},"axis":{"title":null,"values":[0,2.5,5,7.5,10,12.5,15],"format":"d","labelExpr":"abs(datum.value/5-round(datum.value/5))>0.01 ? '' : datum.label","labelFontSize":13,"tickSize":4,"labelPadding":2.5,"gridColor":{"condition":{"test":"abs(datum.value/5-round(datum.value/5))>0.01","value":"#f2f2f2"},"value":"#e5e5e5"},"tickOpacity":{"condition":{"test":"abs(datum.value/5-round(datum.value/5))>0.01","value":0},"value":1}}},
   "detail":{"field":"s"}}},
  {"width":322,"height":125,"title":{"text":"f","offset":0.3,"dx":-12.8,"frame":"group"},
   "encoding":{"x":{"field":"x","type":"quantitative","scale":{"domain":[0.96,20],"nice":false,"zero":false},"axis":{"title":"Relative standard deviation (%)","titleFontSize":18,"titlePadding":-2,"values":[2.5,5,7.5,10,12.5,15,17.5,20],"format":"d","labelExpr":"abs(datum.value/5-round(datum.value/5))>0.01 ? '' : datum.label","labelFontSize":13,"tickSize":4,"labelPadding":3.9,"gridColor":{"condition":{"test":"abs(datum.value/5-round(datum.value/5))>0.01","value":"#f2f2f2"},"value":"#e5e5e5"},"tickOpacity":{"condition":{"test":"abs(datum.value/5-round(datum.value/5))>0.01","value":0},"value":1}}}},
   "layer":[
    {"data":{"name":"F"},"transform":[{"fold":["L","B","C"],"as":["s","v"]}],
     "encoding":{"y":{"field":"v","type":"quantitative","scale":{"domain":[-2.1,15.05],"nice":false,"zero":false},"axis":{"title":null,"values":[0,2.5,5,7.5,10,12.5,15],"format":"d","labelExpr":"abs(datum.value/5-round(datum.value/5))>0.01 ? '' : datum.label","labelFontSize":13,"tickSize":4,"labelPadding":2.5,"gridColor":{"condition":{"test":"abs(datum.value/5-round(datum.value/5))>0.01","value":"#f2f2f2"},"value":"#e5e5e5"},"tickOpacity":{"condition":{"test":"abs(datum.value/5-round(datum.value/5))>0.01","value":0},"value":1}}}},
     "layer":[
      {"transform":[{"filter":"datum.s=='L'"}],"mark":{"type":"area","color":"#e9e9e9","interpolate":"monotone","clip":true},"encoding":{"y2":{"datum":0}}},
      {"transform":[{"filter":"datum.s=='B'"}],"mark":{"type":"area","color":"#4f4f4f","interpolate":"monotone","clip":true},"encoding":{"y2":{"datum":0}}},
      {"transform":[{"filter":"datum.s=='C'"}],"mark":{"type":"area","color":"#888888","interpolate":"monotone","clip":true},"encoding":{"y2":{"datum":0}}},
      {"mark":{"type":"line","color":"#000000","strokeWidth":2.3,"interpolate":"monotone","clip":true},"encoding":{"detail":{"field":"s"}}}
     ]},
    {"data":{"name":"FR"},"mark":{"type":"circle","color":"#000000","size":15,"opacity":1,"clip":true},
     "encoding":{"y":{"datum":-1.41,"type":"quantitative","scale":{"domain":[-2.1,15.05],"nice":false,"zero":false},"axis":{"title":null,"values":[0,2.5,5,7.5,10,12.5,15],"format":"d","labelExpr":"abs(datum.value/5-round(datum.value/5))>0.01 ? '' : datum.label","labelFontSize":13,"tickSize":4,"labelPadding":2.5,"gridColor":{"condition":{"test":"abs(datum.value/5-round(datum.value/5))>0.01","value":"#f2f2f2"},"value":"#e5e5e5"},"tickOpacity":{"condition":{"test":"abs(datum.value/5-round(datum.value/5))>0.01","value":0},"value":1}}}}}
   ]}
 ]}
]}
]}
]
}
